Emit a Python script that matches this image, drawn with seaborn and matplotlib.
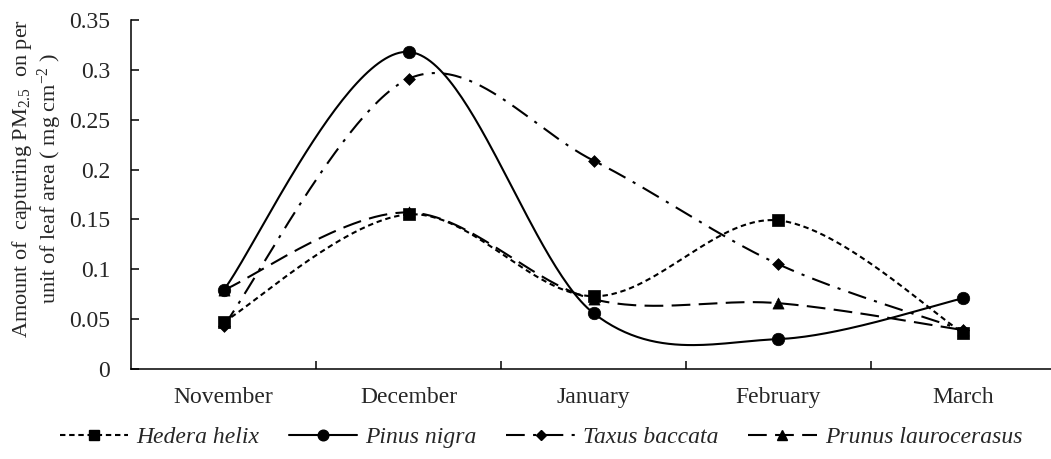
import numpy as np
import pandas as pd
import matplotlib
matplotlib.use("Agg")
import matplotlib.pyplot as plt
from matplotlib.lines import Line2D
from matplotlib.ticker import FixedLocator
import seaborn as sns

# ---- data -------------------------------------------------------------
months = ["November", "December", "January", "February", "March"]
species = ["Hedera helix", "Pinus nigra", "Taxus baccata", "Prunus laurocerasus"]

hedera_helix = [0.047, 0.155, 0.073, 0.149, 0.036]
pinus_nigra = [0.079, 0.318, 0.056, 0.030, 0.071]
taxus_baccata = [0.043, 0.291, 0.209, 0.105, 0.039]
prunus_laurocerasus = [0.079, 0.157, 0.070, 0.066, 0.039]

y_ticks = [0, 0.05, 0.1, 0.15, 0.2, 0.25, 0.3, 0.35]
y_ticklabels = ["0", "0.05", "0.1", "0.15", "0.2", "0.25", "0.3", "0.35"]

values = {
    "Hedera helix": hedera_helix,
    "Pinus nigra": pinus_nigra,
    "Taxus baccata": taxus_baccata,
    "Prunus laurocerasus": prunus_laurocerasus,
}

# ---- styling ----------------------------------------------------------
sns.set_theme(style="white")
plt.rcParams["font.family"] = ["Liberation Serif", "DejaVu Serif"]
plt.rcParams["mathtext.fontset"] = "custom"
plt.rcParams["mathtext.rm"] = "Liberation Serif"
plt.rcParams["mathtext.it"] = "Liberation Serif:italic"

LW = 1.5
dash_styles = {
    "Hedera helix": (2.6, 1.8),
    "Pinus nigra": "",
    "Taxus baccata": (9, 4, 1.5, 4),
    "Prunus laurocerasus": (9, 4),
}
marker_styles = {
    "Hedera helix": "s",
    "Pinus nigra": "o",
    "Taxus baccata": "D",
    "Prunus laurocerasus": "^",
}
marker_sizes = {
    "Hedera helix": 8,
    "Pinus nigra": 9,
    "Taxus baccata": 6,
    "Prunus laurocerasus": 8,
}


def smooth_curve(xs, ys, n=60):
    """Uniform Catmull-Rom spline through the points (endpoints repeated)."""
    pts = np.column_stack([xs, ys]).astype(float)
    ext = np.vstack([pts[0], pts, pts[-1]])
    out = []
    t = np.linspace(0, 1, n)[:, None]
    for i in range(1, len(ext) - 2):
        p0, p1, p2, p3 = ext[i - 1], ext[i], ext[i + 1], ext[i + 2]
        seg = 0.5 * ((2 * p1) + (-p0 + p2) * t
                     + (2 * p0 - 5 * p1 + 4 * p2 - p3) * t ** 2
                     + (-p0 + 3 * p1 - 3 * p2 + p3) * t ** 3)
        out.append(seg if i == 1 else seg[1:])
    out = np.vstack(out)
    return out[:, 0], out[:, 1]


xpos = np.arange(len(months))
curve_rows = []
point_rows = []
for sp in species:
    cx, cy = smooth_curve(xpos, values[sp])
    curve_rows.append(pd.DataFrame({"x": cx, "y": cy, "species": sp}))
    point_rows.append(pd.DataFrame({"x": xpos, "y": values[sp], "species": sp}))
curves = pd.concat(curve_rows, ignore_index=True)
points = pd.concat(point_rows, ignore_index=True)

W, H = 1051, 459
fig = plt.figure(figsize=(W / 100, H / 100), dpi=100)
ax = fig.add_axes([131 / W, (H - 369) / H, 925 / W, 349 / H])

black = {sp: "black" for sp in species}
sns.lineplot(data=curves, x="x", y="y", hue="species", style="species",
             palette=black, dashes=dash_styles, sort=False, estimator=None,
             units="species", linewidth=LW, legend=False, ax=ax)
for sp in species:
    sub = points[points["species"] == sp]
    sns.scatterplot(data=sub, x="x", y="y", marker=marker_styles[sp],
                    s=marker_sizes[sp] ** 2, color="black", edgecolor="black",
                    linewidth=0.5, legend=False, ax=ax, zorder=3)

# ---- axes -------------------------------------------------------------
ax.set_xlim(-0.5, len(months) - 0.5)
ax.set_yticks(y_ticks)
ax.set_yticklabels(y_ticklabels)
ax.set_ylim(0, 0.35)
ax.set_xticks(xpos)
ax.set_xticklabels(months)
ax.xaxis.set_minor_locator(FixedLocator(np.arange(0.5, len(months) - 0.5, 1.0)))

for side in ["top", "right"]:
    ax.spines[side].set_visible(False)
for side in ["left", "bottom"]:
    ax.spines[side].set_color("black")
    ax.spines[side].set_linewidth(1.1)

ax.tick_params(axis="y", which="major", direction="in", length=6, width=1.1,
               color="black", pad=15, labelsize=17, left=True)
ax.tick_params(axis="x", which="major", length=0, pad=13, labelsize=17,
               bottom=True)
ax.tick_params(axis="x", which="minor", direction="in", length=6, width=1.1,
               color="black", bottom=True)

ax.set_xlabel("")
ax.set_ylabel("Amount of  capturing PM$_{2.5}$  on per\nunit of leaf area ( mg cm$^{-2}$ )",
              fontsize=16, linespacing=1.1)
ax.yaxis.set_label_coords(-0.072, 0.545)

# ---- legend -----------------------------------------------------------
handles = []
for sp in species:
    h = Line2D([0], [0], color="black", linewidth=LW, linestyle="-",
               marker=marker_styles[sp], markersize=marker_sizes[sp] * 0.85)
    if dash_styles[sp]:
        h.set_dashes(dash_styles[sp])
    handles.append(h)
fig.legend(handles, species, loc="center", bbox_to_anchor=(541 / W, 1 - 437 / H),
           ncol=4, frameon=False, handlelength=2.9, handletextpad=0.35,
           columnspacing=1.25, prop={"style": "italic", "size": 17})

fig.savefig("out.png", dpi=100)
